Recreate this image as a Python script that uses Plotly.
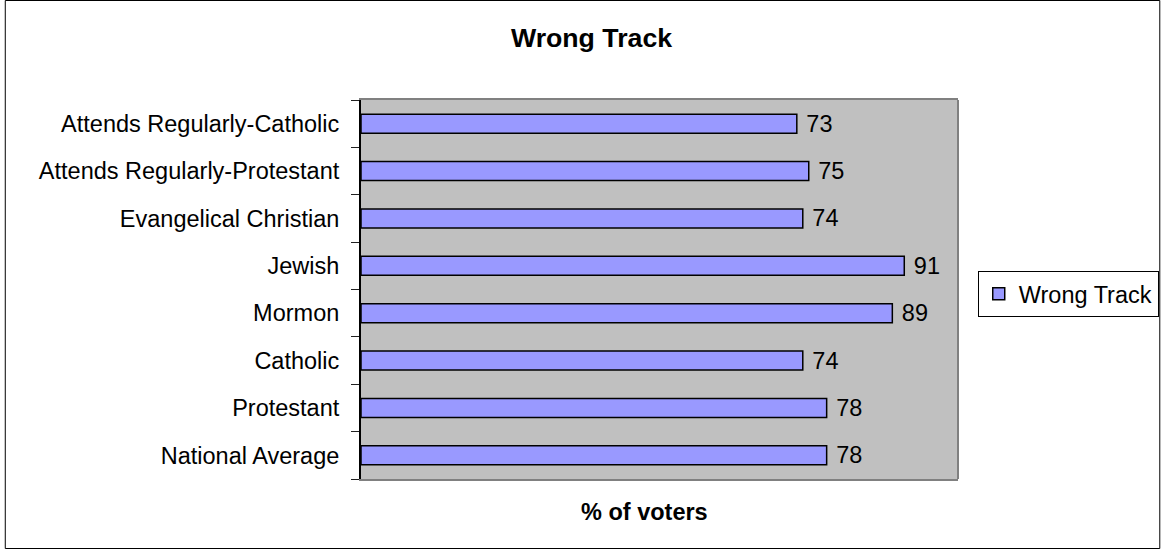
import plotly.graph_objects as go

# categories listed bottom to top (plotly draws the first category at the bottom)
groups = [
    "National Average",
    "Protestant",
    "Catholic",
    "Mormon",
    "Jewish",
    "Evangelical Christian",
    "Attends Regularly-Protestant",
    "Attends Regularly-Catholic",
]
wrong_track = [78, 78, 74, 89, 91, 74, 75, 73]

W, H = 1171, 549
L, R, T, B = 361, 205, 100, 70
pw, ph = W - L - R, H - T - B

FONT = "Liberation Sans, Arial, sans-serif"
FS = 23.5

fig = go.Figure()
fig.add_trace(go.Bar(
    x=wrong_track,
    y=groups,
    orientation="h",
    name="Wrong Track",
    marker=dict(color="#9999FF", line=dict(color="black", width=1.5)),
    text=wrong_track,
    texttemplate=" %{x}",
    textposition="outside",
    constraintext="none",
    textfont=dict(size=FS, color="black"),
    cliponaxis=False,
))

fig.update_layout(
    width=W, height=H,
    margin=dict(l=L, r=R, t=T, b=B),
    paper_bgcolor="white",
    plot_bgcolor="#C0C0C0",
    font=dict(family=FONT, size=FS, color="black"),
    bargap=0.6,
    title=dict(text="<b>Wrong Track</b>", x=591.5 / W, xanchor="center",
               y=1 - 38 / H, yanchor="middle", yref="container",
               font=dict(size=26.7)),
    showlegend=True,
    legend=dict(x=(986 - L) / pw, y=(H - B - 271) / ph, xanchor="left", yanchor="top",
                bordercolor="black", borderwidth=1, bgcolor="white",
                font=dict(size=FS), itemwidth=30, tracegroupgap=0),
    xaxis=dict(range=[0, 100], showgrid=False, zeroline=False, showticklabels=False,
               ticks="", showline=True, linecolor="#808080", linewidth=2, mirror=True),
    yaxis=dict(showgrid=False, ticks="outside", ticklen=8, tickcolor="#202020",
               tickson="boundaries", showline=True, linecolor="black", linewidth=2,
               ticklabelstandoff=15, tickfont=dict(size=FS)),
)

# x axis title
fig.add_annotation(text="<b>% of voters</b>", xref="paper", yref="paper",
                   x=(648.5 - L) / pw, y=-(512 - (H - B)) / ph,
                   xanchor="center", yanchor="middle",
                   showarrow=False, font=dict(size=FS))

# right edge of plot area (grey) and outer chart border
fig.add_shape(type="line", xref="paper", yref="paper", x0=1, x1=1, y0=0, y1=1,
              line=dict(color="#808080", width=2))
fig.add_shape(type="rect", xref="paper", yref="paper",
              x0=-(L - 0.5) / pw, x1=(pw + R - 0.5) / pw,
              y0=-(B - 0.5) / ph, y1=(ph + T - 0.5) / ph,
              line=dict(color="black", width=1))

fig.write_html("out.html", config={"displayModeBar": False},
               post_script="document.body.style.margin='0';")
